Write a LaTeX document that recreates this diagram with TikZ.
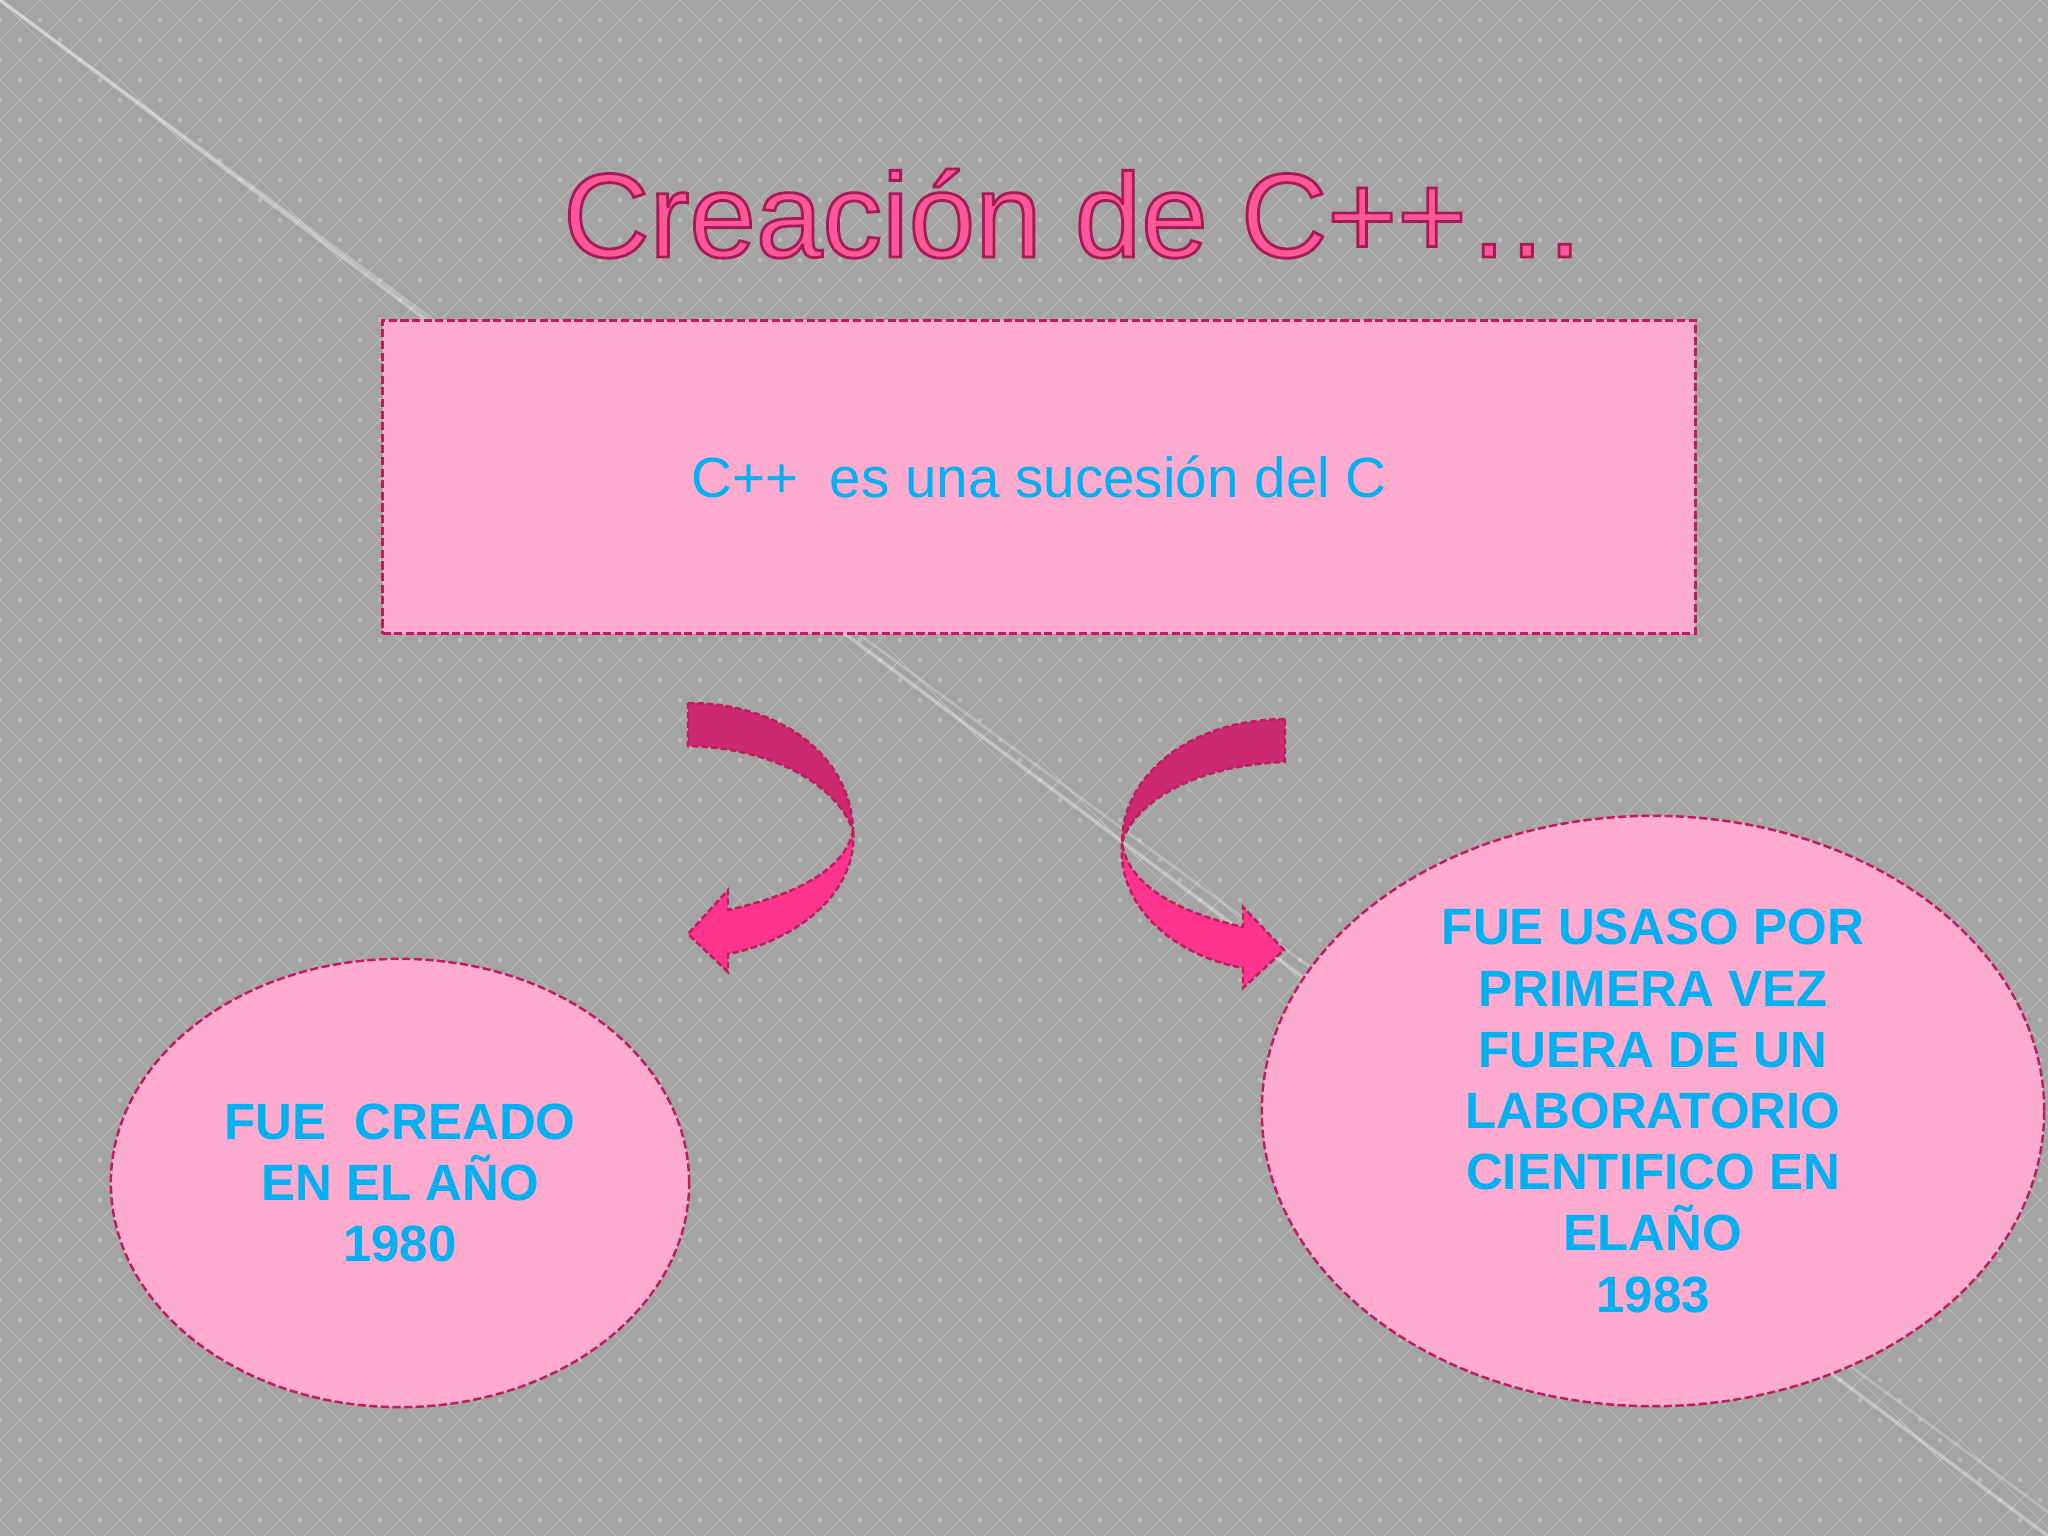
\documentclass[tikz,border=0pt]{standalone}
\usepackage{fontspec}
\setmainfont{Liberation Sans}
\usepackage{xcolor}
\usepackage{tikz}
\usetikzlibrary{shapes.geometric}
\usetikzlibrary{positioning}

\definecolor{slidegray}{RGB}{163,163,163}
\definecolor{gridgray}{RGB}{186,186,186}
\definecolor{bubblepink}{RGB}{255,171,207}
\definecolor{borderpink}{RGB}{190,28,90}
\definecolor{skyblue}{RGB}{0,176,240}
\definecolor{titlepink}{RGB}{255,88,153}
\definecolor{bandback}{RGB}{204,41,112}
\definecolor{bandfront}{RGB}{255,53,141}

% outlined text: fill + stroke in dark pink
\newcommand{\edgedtext}[1]{\special{pdf:code q 2 Tr 0.8 w 0.65 0.11 0.32 RG}#1\special{pdf:code Q}}

\begin{document}
\begin{tikzpicture}[x=0.01cm, y=-0.01cm,
    lattice/.style={gridgray, line width=0.3pt},
    dashedge/.style={draw=borderpink, line width=0.7pt, dash pattern=on 2.3pt off 1pt},
    slidebox/.style={rectangle, dashedge, fill=bubblepink, inner sep=0pt},
    bubble/.style={ellipse, dashedge, fill=bubblepink, inner sep=0pt},
    bubbletext/.style={align=center, text=skyblue,
        font=\fontsize{14.5}{17.4}\selectfont\bfseries},
    backband/.style={dashedge, fill=bandback, dash pattern=on 1.8pt off 0.9pt},
    frontband/.style={dashedge, fill=bandfront, dash pattern=on 1.8pt off 0.9pt}]

    \useasboundingbox (0,0) rectangle (2048,1536);

    % Background
    \fill[slidegray] (0,0) rectangle (2048,1536);
    \begin{scope}
        \clip (0,0) rectangle (2048,1536);
        \draw[lattice] \foreach \n in {0,...,90} {(40*\n,0) -- ++(-1536,1536)};
        \draw[lattice] \foreach \n in {-39,...,52} {(40*\n,0) -- ++(1536,1536)};
        \fill[gridgray] \foreach \i in {0,...,51} {\foreach \j in {0,...,38} {
            (40*\i-2,18+40*\j) rectangle ++(4,4)
            (18+40*\i,38+40*\j) rectangle ++(4,4)}};
        \draw[white, opacity=.35, line width=1pt] (0,0) -- (2048,1536);
        \draw[white, opacity=.25, line width=0.8pt] (0,0) -- (2048,1512);
    \end{scope}

    % Title
    \node[anchor=base, text=titlepink, inner sep=0pt,
        font=\fontsize{34}{40}\selectfont] (title) at (1075,257)
        {\edgedtext{Creación de C++…}};

    % Nodes
    \node[slidebox, minimum width=13.12cm, minimum height=3.13cm,
        text=skyblue, font=\fontsize{16.1}{20}\selectfont] (succ) at (1039,477)
        {C++~~es una sucesión del C};

    \node[bubble, minimum width=5.78cm, minimum height=4.48cm] (year80) at (400,1183) {};
    \node[bubbletext] (year80text) at (year80) {FUE\ \ CREADO\\EN EL AÑO\\1980};

    \node[bubble, minimum width=7.82cm, minimum height=5.90cm] (year83) at (1653,1111) {};
    \node[bubbletext] (year83text) at (year83) {FUE USASO POR\\PRIMERA VEZ\\FUERA DE UN\\
        LABORATORIO\\CIENTIFICO EN\\ELAÑO\\1983};

    % Curved arrows
    \path[backband] (688,703) .. controls (785,703) and (852,760) .. (853,831)
        .. controls (840,790) and (780,748) .. (688,746) -- cycle;
    \path[frontband] (853,831) .. controls (858,890) and (800,940) .. (728,954)
        -- (728,972) -- (688,934) -- (728,890) -- (728,910)
        .. controls (795,895) and (845,870) .. (853,831) -- cycle;

    \path[backband] (1285,719) .. controls (1187,720) and (1122,777) .. (1122,843)
        .. controls (1132,805) and (1192,765) .. (1285,762) -- cycle;
    \path[frontband] (1122,843) .. controls (1117,905) and (1172,955) .. (1243,968)
        -- (1243,988) -- (1284,950) -- (1243,907) -- (1243,927)
        .. controls (1177,912) and (1128,885) .. (1122,843) -- cycle;

\end{tikzpicture}
\end{document}
